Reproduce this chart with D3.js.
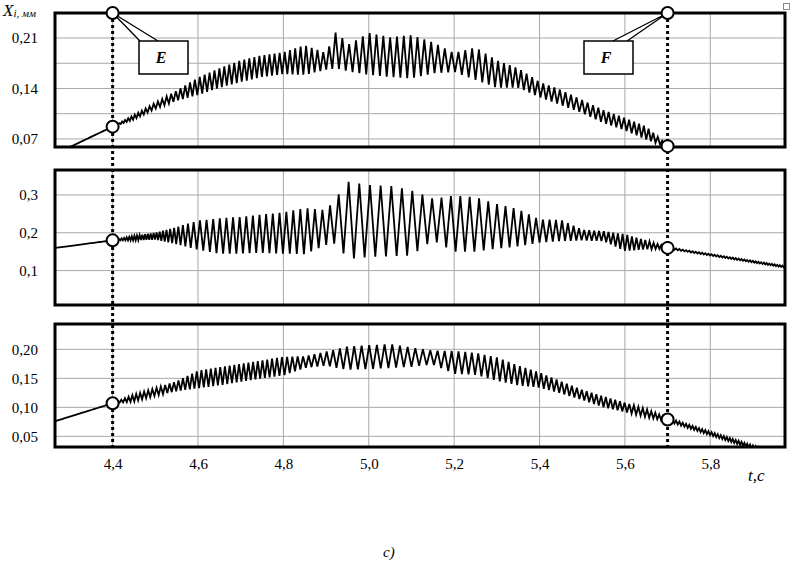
<!DOCTYPE html>
<html>
<head>
<meta charset="utf-8">
<script src="https://cdn.jsdelivr.net/npm/d3@7"></script>
<style>
  body { margin: 0; background: #fff; }
  svg { display: block; }
  text { font-family: "Liberation Serif", "Times New Roman", serif; }
</style>
</head>
<body>
<svg id="chart" width="790" height="561"></svg>
<script>
const tKnots = [4.265, 4.40, 4.45, 4.50, 4.55, 4.60, 4.65, 4.70, 4.75, 4.80, 4.85, 4.90, 4.925, 4.95,
  5.00, 5.05, 5.10, 5.15, 5.20, 5.25, 5.30, 5.35, 5.40, 5.45, 5.50, 5.55, 5.60, 5.65, 5.70, 5.975]

// upper / lower envelope of the oscillation, mm
const topHi = [0.049, 0.087, 0.103, 0.120, 0.137, 0.155, 0.168, 0.179, 0.186, 0.190, 0.200, 0.189, 0.221, 0.200,
  0.217, 0.211, 0.214, 0.204, 0.189, 0.197, 0.179, 0.168, 0.149, 0.138, 0.124, 0.110, 0.099, 0.087, 0.061, 0.020]
const topLo = [0.049, 0.087, 0.097, 0.112, 0.123, 0.131, 0.141, 0.149, 0.156, 0.160, 0.159, 0.166, 0.168, 0.164,
  0.159, 0.156, 0.154, 0.161, 0.163, 0.152, 0.141, 0.141, 0.128, 0.117, 0.106, 0.092, 0.082, 0.069, 0.059, 0.020]
const midHi = [0.160, 0.180, 0.192, 0.200, 0.215, 0.232, 0.238, 0.242, 0.248, 0.254, 0.265, 0.260, 0.294, 0.335,
  0.326, 0.324, 0.312, 0.290, 0.298, 0.294, 0.276, 0.262, 0.235, 0.234, 0.208, 0.204, 0.196, 0.180, 0.162, 0.112]
const midLo = [0.160, 0.180, 0.180, 0.182, 0.170, 0.155, 0.145, 0.145, 0.147, 0.145, 0.143, 0.168, 0.172, 0.130,
  0.136, 0.138, 0.140, 0.180, 0.150, 0.150, 0.158, 0.164, 0.174, 0.178, 0.180, 0.178, 0.152, 0.156, 0.158, 0.108]
const botHi = [0.076, 0.107, 0.122, 0.133, 0.145, 0.163, 0.169, 0.175, 0.181, 0.187, 0.188, 0.196, 0.200, 0.205,
  0.207, 0.209, 0.203, 0.198, 0.197, 0.194, 0.186, 0.172, 0.160, 0.145, 0.130, 0.119, 0.108, 0.097, 0.082, 0.016]
const botLo = [0.076, 0.107, 0.110, 0.120, 0.128, 0.133, 0.138, 0.144, 0.150, 0.155, 0.168, 0.172, 0.168, 0.165,
  0.166, 0.168, 0.170, 0.174, 0.158, 0.156, 0.146, 0.138, 0.134, 0.124, 0.113, 0.100, 0.092, 0.083, 0.076, 0.010]

// spacing between neighbouring peaks (s)
const topPeriod = [0.010, 0.006, 0.008, 0.010, 0.011, 0.0115, 0.0115, 0.0118, 0.0118, 0.012, 0.013, 0.014, 0.016, 0.016,
  0.016, 0.016, 0.016, 0.016, 0.016, 0.016, 0.014, 0.013, 0.013, 0.013, 0.013, 0.012, 0.012, 0.011, 0.010, 0.010]
const midPeriod = [0.010, 0.006, 0.006, 0.007, 0.010, 0.0155, 0.0155, 0.0155, 0.0155, 0.016, 0.017, 0.018, 0.022, 0.025,
  0.025, 0.025, 0.024, 0.022, 0.022, 0.022, 0.020, 0.018, 0.016, 0.014, 0.012, 0.011, 0.011, 0.010, 0.008, 0.006]
const botPeriod = [0.010, 0.008, 0.009, 0.010, 0.0105, 0.011, 0.011, 0.011, 0.011, 0.012, 0.013, 0.015, 0.016, 0.017,
  0.018, 0.018, 0.018, 0.017, 0.016, 0.015, 0.014, 0.013, 0.012, 0.012, 0.0115, 0.011, 0.011, 0.010, 0.008, 0.006]

// marked instants E and F, and the values at the circles
const markT = [4.4, 5.7]
const markLabels = ['E', 'F']
const topMark = [0.087, 0.060]
const midMark = [0.180, 0.160]
const botMark = [0.107, 0.079]

const xTicks = [4.4, 4.6, 4.8, 5.0, 5.2, 5.4, 5.6, 5.8]
const topTicks = [0.07, 0.14, 0.21]
const topGrid = [0.07, 0.105, 0.14, 0.175, 0.21]
const midTicks = [0.1, 0.2, 0.3]
const botTicks = [0.05, 0.10, 0.15, 0.20]

const ru = d3.formatLocale({ decimal: ',', thousands: ' ', grouping: [3], currency: ['', ''] })
const serif = '"Liberation Serif", "Times New Roman", serif'

let svg = d3.select('#chart')
let x = d3.scaleLinear().domain([4.265, 5.975]).range([55, 785])

let panels = [
  { hi: topHi, lo: topLo, per: topPeriod, mark: topMark, ticks: topTicks, grid: topGrid, fmt: ru.format('.2f'),
    y: d3.scaleLinear().domain([0.0588, 0.2447]).range([147, 13]) },
  { hi: midHi, lo: midLo, per: midPeriod, mark: midMark, ticks: midTicks, grid: midTicks, fmt: ru.format('.1f'),
    y: d3.scaleLinear().domain([0.009, 0.366]).range([305, 170]) },
  { hi: botHi, lo: botLo, per: botPeriod, mark: botMark, ticks: botTicks, grid: botTicks, fmt: ru.format('.2f'),
    y: d3.scaleLinear().domain([0.0316, 0.2437]).range([447, 324]) }
]

// zigzag between the read envelopes, restarting at each anchor instant
const wave = (hi, lo, per) => {
  let h = d3.scaleLinear(tKnots, hi), l = d3.scaleLinear(tKnots, lo), p = d3.scaleLinear(tKnots, per)
  let anchors = [tKnots[0], ...markT, tKnots[tKnots.length - 1]]
  let pts = []
  for (let i = 0; i < anchors.length - 1; i++) {
    let t = anchors[i], up = true
    pts.push([t, (h(t) + l(t)) / 2])
    t += p(t) / 2
    while (t < anchors[i + 1] - 0.002) {
      pts.push([t, up ? h(t) : l(t)])
      up = !up
      t += p(t) / 2
    }
  }
  let last = anchors[anchors.length - 1]
  pts.push([last, (h(last) + l(last)) / 2])
  return pts
}

panels.forEach((pn, i) => {
  let [y0, y1] = pn.y.range()
  let g = svg.append('g')

  g.append('clipPath').attr('id', 'clip' + i)
    .append('rect').attr('x', 55).attr('y', y1).attr('width', 730).attr('height', y0 - y1)

  g.selectAll('.hgrid').data(pn.grid).enter().append('line')
    .attr('x1', 55).attr('x2', 785)
    .attr('y1', d => pn.y(d)).attr('y2', d => pn.y(d))
    .attr('stroke', '#a8a8a8').attr('stroke-width', 1)

  g.selectAll('.vgrid').data(xTicks).enter().append('line')
    .attr('x1', d => x(d)).attr('x2', d => x(d))
    .attr('y1', y1).attr('y2', y0)
    .attr('stroke', '#a8a8a8').attr('stroke-width', 1)

  let line = d3.line().x(d => x(d[0])).y(d => pn.y(d[1]))
  g.append('path')
    .datum(wave(pn.hi, pn.lo, pn.per))
    .attr('clip-path', `url(#clip${i})`)
    .attr('d', line)
    .attr('fill', 'none').attr('stroke', '#000').attr('stroke-width', 1.8)
    .attr('stroke-linejoin', 'miter')

  g.append('rect')
    .attr('x', 55).attr('y', y1).attr('width', 730).attr('height', y0 - y1)
    .attr('fill', 'none').attr('stroke', '#000').attr('stroke-width', 3)

  let ax = g.append('g').attr('transform', 'translate(38,0)')
    .call(d3.axisLeft(pn.y).tickValues(pn.ticks).tickFormat(pn.fmt).tickSize(0).tickPadding(0))
  ax.attr('font-family', serif).attr('font-size', 15)
  ax.select('.domain').remove()
  ax.selectAll('text').attr('fill', '#000')
})

// x axis labels under the bottom panel
let xa = svg.append('g').attr('transform', 'translate(0,458)')
  .call(d3.axisBottom(x).tickValues(xTicks).tickFormat(ru.format('.1f')).tickSize(0).tickPadding(0))
xa.attr('font-family', serif).attr('font-size', 15)
xa.select('.domain').remove()
xa.selectAll('text').attr('fill', '#000')

svg.append('text').attr('x', 748).attr('y', 481)
  .attr('font-family', serif).attr('font-style', 'italic').attr('font-size', 17)
  .text('t,c')

// axis title X_i, мм
let yt = svg.append('text').attr('x', 3).attr('y', 16)
  .attr('font-family', serif).attr('font-style', 'italic')
yt.append('tspan').attr('font-size', 17).text('X')
yt.append('tspan').attr('font-size', 11).attr('dy', 1).text('i, мм')

// dotted verticals through all panels
svg.selectAll('.mark').data(markT).enter().append('line')
  .attr('x1', d => x(d)).attr('x2', d => x(d))
  .attr('y1', 13).attr('y2', 447)
  .attr('stroke', '#000').attr('stroke-width', 3).attr('stroke-dasharray', '3,3')

// callouts E, F
let boxes = [{ x: 139, lead: [140, 158] }, { x: 584, lead: [613, 627] }]
boxes.forEach((b, i) => {
  let cx = x(markT[i]), cy = 13
  svg.append('path')
    .attr('d', `M${b.lead[0]},41 L${cx},${cy} L${b.lead[1]},41`)
    .attr('fill', '#fff').attr('stroke', '#000').attr('stroke-width', 1.3)
  svg.append('rect').attr('x', b.x).attr('y', 41).attr('width', 49).attr('height', 33)
    .attr('fill', '#fff').attr('stroke', '#000').attr('stroke-width', 1.5)
  svg.append('text').attr('x', b.x + 22).attr('y', 63).attr('text-anchor', 'middle')
    .attr('font-family', serif).attr('font-style', 'italic').attr('font-weight', 'bold')
    .attr('font-size', 16).text(markLabels[i])
})

// circles: top border of first panel + on each curve
let circ = [
  ...markT.map(t => [t, panels[0].y(panels[0].y.domain()[1])]),
  ...panels.flatMap(pn => markT.map((t, j) => [t, pn.y(pn.mark[j])]))
]
svg.selectAll('.pt').data(circ).enter().append('circle')
  .attr('cx', d => x(d[0])).attr('cy', d => d[1]).attr('r', 6)
  .attr('fill', '#fff').attr('stroke', '#000').attr('stroke-width', 2)

// small corner glyph
svg.append('rect').attr('x', 783.5).attr('y', 3.5).attr('width', 6).attr('height', 6)
  .attr('fill', 'none').attr('stroke', '#888').attr('stroke-width', 1)

svg.append('text').attr('x', 383).attr('y', 557)
  .attr('font-family', '"Liberation Sans", Arial, sans-serif').attr('font-style', 'italic').attr('font-size', 15)
  .text('c)')
</script>
</body>
</html>
